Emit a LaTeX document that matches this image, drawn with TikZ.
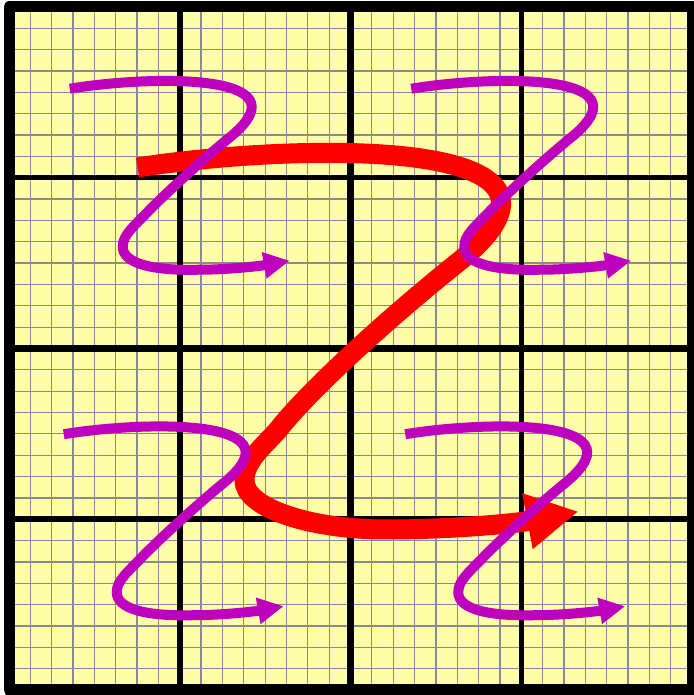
\documentclass[tikz,border=0pt]{standalone}
\usetikzlibrary{arrows.meta}
\definecolor{paper}{RGB}{255,255,170}
\definecolor{fine}{RGB}{138,138,150}
\definecolor{zpurple}{RGB}{190,0,190}
\definecolor{zred}{RGB}{255,0,0}
\begin{document}
\begin{tikzpicture}[x=1pt,y=1pt,
  fineline/.style={draw=fine,line width=1.25pt},
  majorline/.style={draw=black,line width=5.5pt},
  midline/.style={draw=black,line width=7.5pt},
  frame/.style={draw=black,line width=11pt,line join=round},
  bigz/.style={draw=zred,line width=20pt,-{Triangle[length=52pt,width=53pt]}},
  smallz/.style={draw=zpurple,line width=10pt,-{Triangle[length=26pt,width=25pt]}},
  pics/purplez/.style={code={
    \draw[smallz] (-110,89) .. controls (-32,102) and (128,106) .. (52,42)
      .. controls (20,16) and (-14,-16) .. (-30,-32)
      .. controls (-46,-49) and (-57,-57) .. (-57,-69)
      .. controls (-57,-85) and (-30,-93) .. (18,-92)
      .. controls (50,-92) and (82,-88) .. (110,-83);
  }},
]
\useasboundingbox (0,0) rectangle (693,695);
\fill[paper] (9,5) rectangle (692,688);
\foreach \i in {1,...,31} {
  \draw[fineline] ({9+\i*170.75/8},5) -- ({9+\i*170.75/8},688);
  \draw[fineline] (9,{5+\i*170.75/8}) -- (692,{5+\i*170.75/8});
}
\foreach \i in {1,3} {
  \draw[majorline] ({9+\i*170.75},5) -- ({9+\i*170.75},688);
  \draw[majorline] (9,{5+\i*170.75}) -- (692,{5+\i*170.75});
}
\draw[midline] (350.5,5) -- (350.5,688);
\draw[midline] (9,346.5) -- (692,346.5);
\draw[frame] (9,5) rectangle (692,688);
\begin{scope}[shift={(350.5,346.5)}]
  \draw[bigz] (-213,181) .. controls (-60,205) and (270,215) .. (106,85)
    .. controls (40,32) and (-40,-40) .. (-73,-82)
    .. controls (-86,-97) and (-106,-112) .. (-106,-132)
    .. controls (-106,-159) and (-42,-181) .. (36,-181)
    .. controls (100,-181) and (165,-175) .. (228,-163);
\end{scope}
\pic at (179.75,517.25) {purplez};
\pic at (521.25,517.25) {purplez};
\pic at (173.75,171.75) {purplez};
\pic at (515.25,171.75) {purplez};
\end{tikzpicture}
\end{document}
